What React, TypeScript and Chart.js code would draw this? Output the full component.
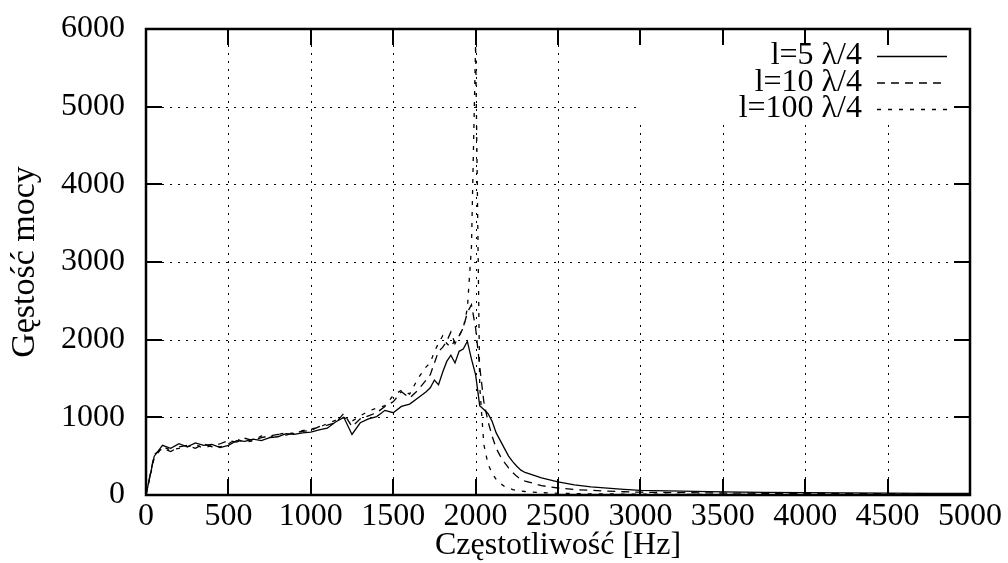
import React, { useEffect, useRef } from "react";
import { Chart, registerables } from "chart.js";

Chart.register(...registerables);

// Frequency axis [Hz]
const frequencies = [
  0, 50, 100, 150, 200, 250, 300, 350, 400, 450, 500, 550, 600, 650, 700, 750, 800, 850, 900, 950,
  1000, 1050, 1100, 1150, 1200, 1250, 1300, 1350, 1400, 1450, 1500, 1550, 1600, 1650, 1700,
  1725, 1750, 1775, 1800, 1825, 1850, 1875, 1900, 1925, 1950, 1975, 2000, 2025, 2050, 2075,
  2100, 2125, 2150, 2175, 2200, 2225, 2250, 2275, 2300,
  2400, 2500, 2600, 2700, 2800, 2900, 3000,
  3250, 3500, 3750, 4000, 4250, 4500, 4750, 5000,
];

// l=5 λ/4 (solid)
const powerL5 = [
  0, 500, 640, 600, 660, 620, 670, 640, 650, 610, 640, 700, 690, 720, 700, 740, 750, 790, 780, 800,
  810, 840, 860, 940, 1000, 780, 930, 980, 1010, 1090, 1060, 1140, 1170, 1250, 1330,
  1380, 1480, 1420, 1580, 1720, 1800, 1700, 1850, 1880, 1980, 1750, 1550, 1150, 1100, 1050,
  950, 800, 700, 600, 500, 430, 370, 320, 290,
  220, 170, 130, 105, 88, 72, 60,
  50, 40, 35, 30, 28, 25, 22, 20,
];

// l=10 λ/4 (dashed)
const powerL10 = [
  0, 520, 600, 560, 620, 640, 600, 660, 620, 660, 700, 680, 730, 700, 740, 760, 780, 770, 800, 820,
  830, 880, 900, 930, 1050, 880, 980, 1020, 1060, 1140, 1200, 1330, 1250, 1350, 1480,
  1550, 1700, 1850, 1900, 1980, 2100, 1950, 2050, 2150, 2350, 2450, 2150, 1650, 1200, 950,
  760, 600, 500, 420, 350, 290, 240, 200, 180,
  120, 90, 70, 60, 50, 42, 36,
  30, 25, 22, 20, 18, 16, 15, 14,
];

// l=100 λ/4 (short dashes)
const powerL100 = [
  0, 480, 620, 580, 600, 620, 650, 600, 640, 620, 660, 720, 680, 700, 760, 740, 780, 800, 790, 830,
  850, 870, 920, 960, 1000, 950, 1020, 1080, 1120, 1150, 1280, 1350, 1300, 1500, 1650,
  1700, 1850, 1950, 2050, 1950, 1900, 2000, 2050, 2150, 2400, 3200, 5800, 1400, 650, 400,
  280, 200, 150, 110, 90, 70, 60, 50, 45,
  30, 22, 18, 15, 13, 12, 10,
  9, 8, 7, 6, 6, 5, 5, 5,
];

const seriesLabels = ["l=5 λ/4", "l=10 λ/4", "l=100 λ/4"];
const seriesDashes = [[], [8, 6], [4, 7]];
const xAxisTitle = "Częstotliwość [Hz]";
const yAxisTitle = "Gęstość mocy";
const xMin = 0, xMax = 5000, xStep = 500;
const yMin = 0, yMax = 6000, yStep = 1000;

const FONT = "'Liberation Serif', 'Times New Roman', serif";
const FS = 32;

const gnuplotFrame = {
  id: "gnuplotFrame",
  beforeDatasetsDraw(chart: any) {
    const { ctx, chartArea: a, scales } = chart;
    const xs = scales.x, ys = scales.y;
    ctx.save();
    ctx.strokeStyle = "#000";
    ctx.lineWidth = 1;
    ctx.setLineDash([2, 6]);
    for (const t of xs.ticks) {
      if (t.value === xMin || t.value === xMax) continue;
      const px = Math.round(xs.getPixelForValue(t.value)) + 0.5;
      ctx.beginPath();
      ctx.moveTo(px, a.bottom);
      ctx.lineTo(px, a.top);
      ctx.stroke();
    }
    for (const t of ys.ticks) {
      if (t.value === yMin || t.value === yMax) continue;
      const py = Math.round(ys.getPixelForValue(t.value)) + 0.5;
      ctx.beginPath();
      ctx.moveTo(a.left, py);
      ctx.lineTo(a.right, py);
      ctx.stroke();
    }
    // key area blanked
    ctx.fillStyle = "#fff";
    ctx.fillRect(a.right - 333, a.top, 333, 95);
    ctx.restore();
  },
  afterDatasetsDraw(chart: any) {
    const { ctx, chartArea: a, scales } = chart;
    const xs = scales.x, ys = scales.y;
    ctx.save();
    ctx.strokeStyle = "#000";
    ctx.setLineDash([]);
    ctx.lineWidth = 2;
    const tl = 16;
    for (const t of xs.ticks) {
      const px = Math.round(xs.getPixelForValue(t.value));
      ctx.beginPath();
      ctx.moveTo(px, a.bottom);
      ctx.lineTo(px, a.bottom - tl);
      ctx.moveTo(px, a.top);
      ctx.lineTo(px, a.top + tl);
      ctx.stroke();
    }
    for (const t of ys.ticks) {
      const py = Math.round(ys.getPixelForValue(t.value));
      ctx.beginPath();
      ctx.moveTo(a.left, py);
      ctx.lineTo(a.left + tl, py);
      ctx.moveTo(a.right, py);
      ctx.lineTo(a.right - tl, py);
      ctx.stroke();
    }
    ctx.lineWidth = 2.5;
    ctx.strokeRect(a.left, a.top, a.right - a.left, a.bottom - a.top);

    // key
    ctx.font = `${FS}px ${FONT}`;
    ctx.fillStyle = "#000";
    ctx.textAlign = "right";
    ctx.textBaseline = "middle";
    ctx.lineWidth = 1.3;
    seriesLabels.forEach((lab, i) => {
      const yy = a.top + 27 + i * 26.5;
      ctx.fillText(lab, a.right - 108, yy);
      ctx.setLineDash(seriesDashes[i]);
      ctx.beginPath();
      ctx.moveTo(a.right - 93, yy + 0.5);
      ctx.lineTo(a.right - 23, yy + 0.5);
      ctx.stroke();
    });
    ctx.restore();
  },
};

export default function App() {
  const ref = useRef<HTMLCanvasElement | null>(null);
  useEffect(() => {
    document.body.style.margin = "0";
    const mk = (vals: number[]) => frequencies.map((f, i) => ({ x: f, y: vals[i] }));
    const chart = new Chart(ref.current as HTMLCanvasElement, {
      type: "line",
      data: {
        datasets: [powerL5, powerL10, powerL100].map((vals, i) => ({
          label: seriesLabels[i],
          data: mk(vals),
          borderColor: "#000",
          borderWidth: 1.3,
          borderDash: seriesDashes[i],
          pointRadius: 0,
          tension: 0,
          fill: false,
        })),
      },
      options: {
        animation: false,
        responsive: false,
        maintainAspectRatio: false,
        layout: { padding: { top: 28, right: 38, left: 0, bottom: 0 } },
        plugins: { legend: { display: false }, tooltip: { enabled: false } },
        scales: {
          x: {
            type: "linear",
            min: xMin,
            max: xMax,
            grid: { display: false },
            border: { display: false },
            ticks: {
              stepSize: xStep,
              color: "#000",
              font: { family: FONT, size: FS, lineHeight: 1 },
              padding: -2,
              maxRotation: 0,
              autoSkip: false,
              callback: (v: any) => String(v),
            },
            title: {
              display: true,
              text: xAxisTitle,
              color: "#000",
              font: { family: FONT, size: FS, lineHeight: 1 },
              padding: { top: 0, bottom: 1 },
            },
            afterFit: (s: any) => { s.height = 68; },
          },
          y: {
            type: "linear",
            min: yMin,
            max: yMax,
            grid: { display: false },
            border: { display: false },
            ticks: {
              stepSize: yStep,
              color: "#000",
              font: { family: FONT, size: FS, lineHeight: 1 },
              padding: 13,
              callback: (v: any) => String(v),
            },
            title: {
              display: true,
              text: yAxisTitle,
              color: "#000",
              font: { family: FONT, size: 34, lineHeight: 1 },
              padding: { top: 8, bottom: 0 },
            },
            afterFit: (s: any) => { s.width = 146; },
          },
        },
      },
      plugins: [gnuplotFrame],
    });
    return () => chart.destroy();
  }, []);
  return (
    <div style={{ width: 1008, height: 563, background: "#fff" }}>
      <canvas ref={ref} width={1008} height={563} />
    </div>
  );
}
